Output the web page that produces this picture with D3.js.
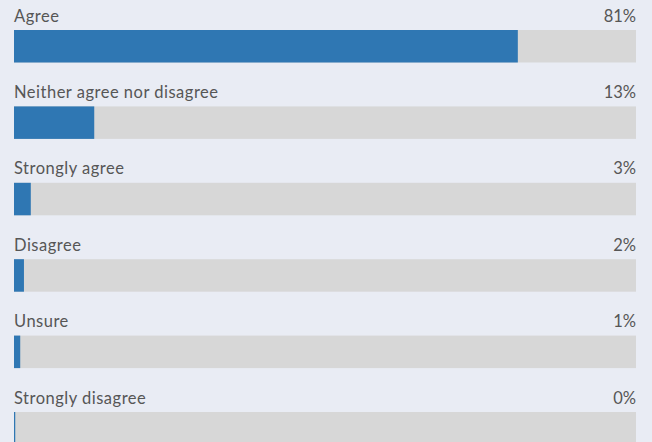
<!DOCTYPE html>
<html lang="en">
<head>
  <meta charset="UTF-8">
  <title>Survey responses</title>
  <script src="https://cdn.jsdelivr.net/npm/d3@7"></script>
  <style>
    html, body { margin: 0; padding: 0; background: #e9ecf4; }
  </style>
</head>
<body>
  <svg width="652" height="442"></svg>
  <script>
    var categories = ['Agree', 'Neither agree nor disagree', 'Strongly agree', 'Disagree', 'Unsure', 'Strongly disagree'];
    var values = [81, 12.9, 2.7, 1.6, 1.0, 0.2];
    var valueLabels = ['81%', '13%', '3%', '2%', '1%', '0%'];

    var margin = { top: 30, right: 16, left: 14 };
    var svg = d3.select('svg');
    var width = +svg.attr('width') - margin.left - margin.right;
    var barHeight = 32.5;
    var step = 76.4;
    var pad = 1 - barHeight / step;

    var xScale = d3.scaleLinear().domain([0, 100]).range([0, width]);
    // outer padding = pad/2 with align 0 keeps the step at range / n
    var yScale = d3.scaleBand()
      .domain(categories)
      .range([0, step * categories.length])
      .paddingInner(pad)
      .paddingOuter(pad / 2)
      .align(0);

    var chart = svg.append('g')
      .attr('transform', 'translate(' + margin.left + ',' + margin.top + ')');

    var rows = chart.selectAll('.row')
      .data(categories)
      .enter().append('g')
      .attr('class', 'row')
      .attr('transform', function(d) { return 'translate(0,' + yScale(d) + ')'; });

    rows.append('rect')
      .attr('width', width)
      .attr('height', yScale.bandwidth())
      .attr('fill', '#d7d7d7');

    rows.append('rect')
      .attr('width', function(d, i) { return Math.max(1, xScale(values[i])); })
      .attr('height', yScale.bandwidth())
      .attr('fill', '#2f77b3');

    rows.append('text')
      .attr('x', 0)
      .attr('y', -8.5)
      .attr('fill', '#565656')
      .style('font-family', 'Lato, sans-serif')
      .style('font-size', '16.5px')
      .style('letter-spacing', '0.5px')
      .text(function(d) { return d; });

    rows.append('text')
      .attr('x', width)
      .attr('y', -8.5)
      .attr('text-anchor', 'end')
      .attr('fill', '#565656')
      .style('font-family', 'Lato, sans-serif')
      .style('font-size', '16.5px')
      .text(function(d, i) { return valueLabels[i]; });
  </script>
</body>
</html>
